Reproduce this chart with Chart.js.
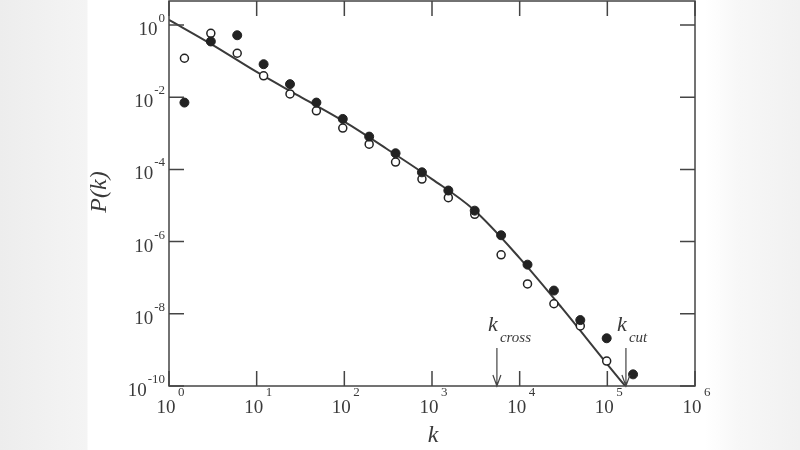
<!DOCTYPE html>
<html lang="en">
<head>
<meta charset="utf-8">
<script src="https://cdn.jsdelivr.net/npm/chart.js@4/dist/chart.umd.min.js"></script>
<style>
  html, body { margin: 0; padding: 0; }
  body {
    width: 800px; height: 450px; overflow: hidden;
    background: linear-gradient(to right, #ededed 0px, #f2f2f2 60px, #f4f4f4 87px, #fff 88px, #fff 705px, #f7f7f7 740px, #f1f1f1 800px);
  }
  #chart { position: absolute; left: 0; top: 0; }
</style>
</head>
<body>
<canvas id="chart" width="800" height="450"></canvas>
<script>
// bin centres (k) and the two measured distributions
const kBins = [1.5, 3, 6, 12, 24, 48, 96, 192, 384, 768, 1536, 3072, 6144, 12288, 24576, 49152, 98304, 196608];
const pFilled = [7.1e-3, 0.35, 0.52, 0.082, 0.023, 7.1e-3, 2.5e-3, 8.1e-4, 2.8e-4, 8.3e-5, 2.6e-5, 7.2e-6, 1.5e-6, 2.3e-7, 4.4e-8, 6.7e-9, 2.1e-9, 2.1e-10];
const pOpen = [0.12, 0.59, 0.165, 0.039, 0.0123, 4.2e-3, 1.4e-3, 5.0e-4, 1.6e-4, 5.4e-5, 1.65e-5, 5.7e-6, 4.3e-7, 6.7e-8, 1.9e-8, 4.6e-9, 4.9e-10];

// fitted curve
const fitK = [1, 3, 10, 30, 100, 300, 1000, 3000, 1e4, 3e4, 1e5, 1.6e5];
const fitP = [1.38, 0.30, 0.050, 0.011, 2.1e-3, 3.8e-4, 5.4e-5, 7.6e-6, 3.5e-7, 1.5e-8, 4.0e-10, 1.0e-10];

// tick exponents
const xTickExp = [0, 1, 2, 3, 4, 5, 6];
const yTickExp = [0, -2, -4, -6, -8, -10];

// marked k values
const markK = [5500, 1.63e5];
const markSub = ['cross', 'cut'];

const ink = '#3a3a3a';
const serif = '"Liberation Serif", "DejaVu Serif", serif';

const toXY = (xs, ys) => ys.map((y, i) => ({ x: xs[i], y: y }));

const decorations = {
  id: 'decorations',
  afterDraw(chart) {
    const ctx = chart.ctx;
    const a = chart.chartArea;
    const xs = chart.scales.x, ys = chart.scales.y;
    ctx.save();
    ctx.strokeStyle = '#444';
    ctx.lineWidth = 1.5;
    ctx.strokeRect(a.left, a.top, a.right - a.left, a.bottom - a.top);

    // inward ticks on all four sides
    const tl = 15;
    ctx.beginPath();
    xTickExp.forEach(e => {
      const px = xs.getPixelForValue(Math.pow(10, e));
      ctx.moveTo(px, a.bottom); ctx.lineTo(px, a.bottom - tl);
      ctx.moveTo(px, a.top); ctx.lineTo(px, a.top + tl);
    });
    yTickExp.forEach(e => {
      const py = ys.getPixelForValue(Math.pow(10, e));
      ctx.moveTo(a.left, py); ctx.lineTo(a.left + tl, py);
      ctx.moveTo(a.right, py); ctx.lineTo(a.right - tl, py);
    });
    ctx.stroke();

    // tick labels 10^n
    ctx.fillStyle = ink;
    ctx.textBaseline = 'alphabetic';
    const big = '19px ' + serif, small = '13px ' + serif;
    xTickExp.forEach(e => {
      const px = xs.getPixelForValue(Math.pow(10, e));
      ctx.font = big; ctx.textAlign = 'center';
      ctx.fillText('10', px - 3, a.bottom + 27);
      ctx.font = small; ctx.textAlign = 'left';
      ctx.fillText(String(e), px + 9, a.bottom + 10);
    });
    yTickExp.forEach(e => {
      const py = ys.getPixelForValue(Math.pow(10, e));
      const exp = e === 0 ? '0' : '-' + Math.abs(e);
      ctx.font = small;
      const we = ctx.measureText(exp).width;
      ctx.font = big;
      const wb = ctx.measureText('10').width;
      const x0 = a.left - 4 - we - wb - 1;
      ctx.textAlign = 'left';
      ctx.fillText('10', x0, py + 10);
      ctx.font = small;
      ctx.fillText(exp, x0 + wb + 1, py - 3);
    });

    // axis titles
    ctx.font = 'italic 24px ' + serif;
    ctx.textAlign = 'center';
    ctx.textBaseline = 'middle';
    ctx.fillText('k', (a.left + a.right) / 2 + 1, 436);
    ctx.save();
    ctx.translate(100, 192);
    ctx.rotate(-Math.PI / 2);
    ctx.fillText('P(k)', 0, 0);
    ctx.restore();

    // k_cross and k_cut markers
    ctx.textBaseline = 'alphabetic';
    ctx.lineWidth = 1.2;
    markK.forEach((k, i) => {
      const px = xs.getPixelForValue(k);
      ctx.font = 'italic 22px ' + serif;
      ctx.textAlign = 'left';
      ctx.fillText('k', px - 9, 331);
      ctx.font = 'italic 15px ' + serif;
      ctx.fillText(markSub[i], px + 3, 342);
      ctx.beginPath();
      ctx.moveTo(px, 348); ctx.lineTo(px, a.bottom);
      ctx.moveTo(px - 4, a.bottom - 11); ctx.lineTo(px, a.bottom); ctx.lineTo(px + 4, a.bottom - 11);
      ctx.stroke();
    });
    ctx.restore();
  }
};

const logAxis = (min, max, isX) => ({
  type: 'logarithmic',
  min: min,
  max: max,
  ticks: { display: false },
  grid: { display: false },
  border: { display: false },
  afterFit: s => { if (isX) s.height = 0; else s.width = 0; }
});

new Chart(document.getElementById('chart'), {
  type: 'scatter',
  data: {
    datasets: [
      {
        label: 'filled',
        data: toXY(kBins, pFilled),
        pointRadius: 4.5,
        pointBackgroundColor: '#222',
        pointBorderColor: '#222',
        pointBorderWidth: 1,
        order: 0
      },
      {
        label: 'open',
        data: toXY(kBins, pOpen),
        pointRadius: 4,
        pointBackgroundColor: '#fff',
        pointBorderColor: '#222',
        pointBorderWidth: 1.5,
        order: 1
      },
      {
        label: 'fit',
        type: 'line',
        data: toXY(fitK, fitP),
        borderColor: '#3a3a3a',
        borderWidth: 2,
        pointRadius: 0,
        cubicInterpolationMode: 'monotone',
        fill: false,
        order: 2
      }
    ]
  },
  options: {
    responsive: false,
    animation: false,
    layout: { autoPadding: false, padding: { left: 169, right: 105, top: 1, bottom: 64 } },
    plugins: { legend: { display: false }, tooltip: { enabled: false } },
    scales: {
      x: logAxis(1, 1e6, true),
      y: logAxis(1e-10, 4.62, false)
    }
  },
  plugins: [decorations]
});
</script>
</body>
</html>
